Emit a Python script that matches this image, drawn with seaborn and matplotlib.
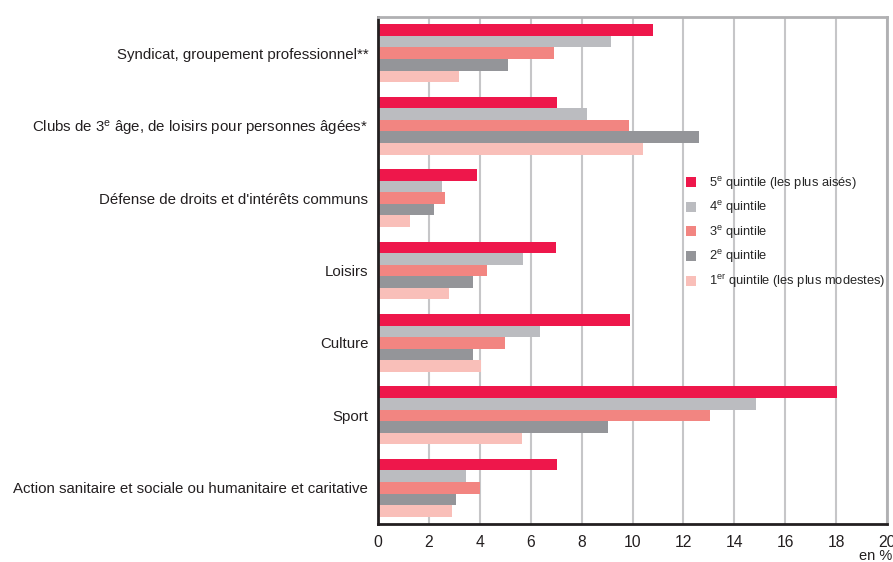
import matplotlib
matplotlib.use("Agg")
import matplotlib.pyplot as plt
import seaborn as sns
import pandas as pd

categories = [
    "Syndicat, groupement professionnel**",
    "Clubs de 3$^{\\rm e}$ âge, de loisirs pour personnes âgées*",
    "Défense de droits et d'intérêts communs",
    "Loisirs",
    "Culture",
    "Sport",
    "Action sanitaire et sociale ou humanitaire et caritative",
]
quintiles = [
    "5$^{\\rm e}$ quintile (les plus aisés)",
    "4$^{\\rm e}$ quintile",
    "3$^{\\rm e}$ quintile",
    "2$^{\\rm e}$ quintile",
    "1$^{\\rm er}$ quintile (les plus modestes)",
]
q5 = [10.8, 7.05, 3.9, 7.0, 9.9, 18.05, 7.05]
q4 = [9.15, 8.2, 2.5, 5.7, 6.35, 14.85, 3.45]
q3 = [6.9, 9.85, 2.65, 4.3, 5.0, 13.05, 4.0]
q2 = [5.1, 12.6, 2.2, 3.75, 3.75, 9.05, 3.05]
q1 = [3.2, 10.4, 1.25, 2.8, 4.05, 5.65, 2.9]
colors = ["#EE174B", "#BBBCC0", "#F28581", "#949599", "#F9BFB9"]

series = [q5, q4, q3, q2, q1]
rows = []
for q, vals in zip(quintiles, series):
    for c, v in zip(categories, vals):
        rows.append({"cat": c, "val": v, "q": q})
df = pd.DataFrame(rows)

sns.set_style("white")
plt.rcParams["font.family"] = ["Liberation Sans", "DejaVu Sans"]
plt.rcParams["mathtext.fontset"] = "custom"
plt.rcParams["mathtext.rm"] = "Liberation Sans"
plt.rcParams["mathtext.it"] = "Liberation Sans"

fig = plt.figure(figsize=(8.93, 5.62), dpi=100)
ax = fig.add_axes([378 / 893, 1 - 524 / 562, (887 - 378) / 893, (524 - 17) / 562])

sns.barplot(data=df, y="cat", x="val", hue="q", order=categories,
            hue_order=quintiles, palette=colors, orient="h", width=0.8,
            saturation=1, edgecolor="none", linewidth=0, ax=ax, legend=True)

ax.set_xlim(0, 20)
ax.set_xticks(range(0, 21, 2))
ax.set_xlabel("")
ax.set_ylabel("")
ax.grid(axis="x", color="#C6C6C8", linewidth=1.5)
ax.grid(axis="y", visible=False)
ax.set_axisbelow(True)
ax.tick_params(axis="both", length=0, colors="#231F20")
ax.tick_params(axis="y", pad=7, labelsize=10.8)
ax.tick_params(axis="x", pad=8, labelsize=11.3)

for s in ["left", "bottom"]:
    ax.spines[s].set_color("#231F20")
    ax.spines[s].set_linewidth(2)
for s in ["top", "right"]:
    ax.spines[s].set_color("#B0B0B2")
    ax.spines[s].set_linewidth(2)

handles, labels = ax.get_legend_handles_labels()
ax.legend(handles, labels, loc="upper left", bbox_to_anchor=(0.605, 0.689),
          frameon=False, fontsize=9.3, handlelength=0.8, handleheight=0.8,
          handletextpad=1.0, labelspacing=0.58, borderaxespad=0, borderpad=0)

fig.text(0.999, 1 - 549 / 562, "en %", ha="right", va="top",
         fontsize=10.5, color="#231F20")

fig.savefig("out.png", dpi=100)
